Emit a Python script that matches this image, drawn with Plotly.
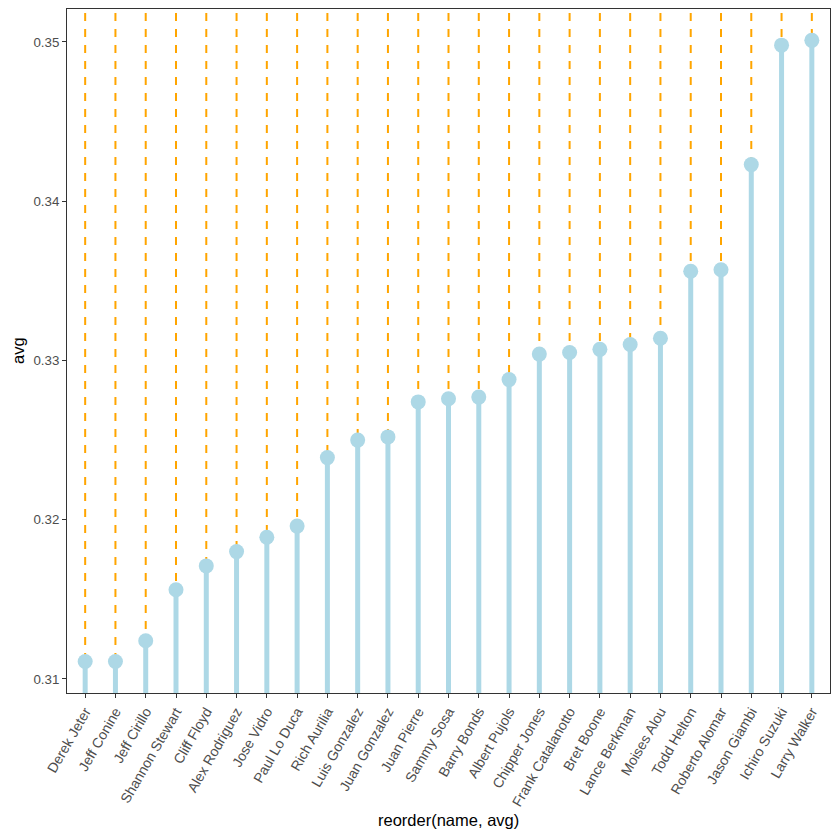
import plotly.graph_objects as go

names = ["Derek Jeter", "Jeff Conine", "Jeff Cirillo", "Shannon Stewart", "Cliff Floyd",
         "Alex Rodriguez", "Jose Vidro", "Paul Lo Duca", "Rich Aurilia", "Luis Gonzalez",
         "Juan Gonzalez", "Juan Pierre", "Sammy Sosa", "Barry Bonds", "Albert Pujols",
         "Chipper Jones", "Frank Catalanotto", "Bret Boone", "Lance Berkman", "Moises Alou",
         "Todd Helton", "Roberto Alomar", "Jason Giambi", "Ichiro Suzuki", "Larry Walker"]
avg = [0.3111, 0.3111, 0.3124, 0.3156, 0.3171,
       0.3180, 0.3189, 0.3196, 0.3239, 0.3250,
       0.3252, 0.3274, 0.3276, 0.3277, 0.3288,
       0.3304, 0.3305, 0.3307, 0.3310, 0.3314,
       0.3356, 0.3357, 0.3423, 0.3498, 0.3501]
y_ticks = [0.31, 0.32, 0.33, 0.34, 0.35]

y_lo, y_hi = 0.30912, 0.35207
idx = list(range(len(names)))

# dashed orange segments from top down to point
dx, dy = [], []
for i, v in zip(idx, avg):
    dx += [i, i, None]
    dy += [y_hi - 0.00025, v, None]
# light blue stems from bottom to point
sx, sy = [], []
for i, v in zip(idx, avg):
    sx += [i, i, None]
    sy += [y_lo, v, None]

fig = go.Figure()
fig.add_trace(go.Scatter(x=dx, y=dy, mode="lines",
                         line=dict(color="#FFA500", width=2, dash="8px,8px"),
                         hoverinfo="skip", showlegend=False))
fig.add_trace(go.Scatter(x=sx, y=sy, mode="lines",
                         line=dict(color="#ADD8E6", width=5),
                         hoverinfo="skip", showlegend=False))
fig.add_trace(go.Scatter(x=idx, y=avg, mode="markers",
                         marker=dict(color="#ADD8E6", size=15),
                         text=names, showlegend=False))

font = "Liberation Sans, Arial, sans-serif"
OFF = 8  # page body margin offset
W = H = 840 - OFF
L, R, T, B = 67 - OFF, 10, 9 - OFF, 147
pw, ph = W - L - R, H - T - B

fig.update_layout(
    width=W, height=H,
    margin=dict(l=L, r=R, t=T, b=B),
    paper_bgcolor="white", plot_bgcolor="white",
    font=dict(family=font, color="#4D4D4D", size=13),
    xaxis=dict(range=[-0.6, len(names) - 0.4], tickmode="array", tickvals=idx, ticktext=names,
               tickangle=-60, ticks="outside", ticklen=4, tickcolor="#333333",
               showgrid=False, zeroline=False, showline=True, linecolor="#333333",
               linewidth=1, mirror=True, automargin=False,
               tickfont=dict(family=font, size=14, color="#4D4D4D")),
    yaxis=dict(range=[y_lo, y_hi], tickmode="array", tickvals=y_ticks,
               ticktext=[f"{t:.2f}" for t in y_ticks],
               ticks="outside", ticklen=4, tickcolor="#333333",
               showgrid=False, zeroline=False, showline=True, linecolor="#333333",
               linewidth=1, mirror=True, automargin=False,
               tickfont=dict(family=font, size=13.3, color="#4D4D4D")),
    annotations=[
        dict(text="reorder(name, avg)", xref="paper", yref="paper",
             x=0.5, y=(ph - (820 - OFF - T)) / ph, xanchor="center", yanchor="middle",
             showarrow=False, font=dict(family=font, size=16.5, color="black")),
        dict(text="avg", xref="paper", yref="paper",
             x=(18 - OFF - L) / pw, y=0.5, xanchor="center", yanchor="middle", textangle=-90,
             showarrow=False, font=dict(family=font, size=16.5, color="black")),
    ],
)

fig.write_html("out.html")
